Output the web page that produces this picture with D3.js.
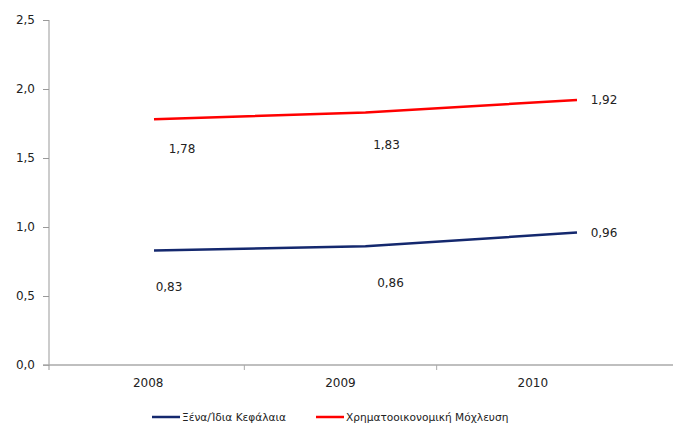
<!DOCTYPE html>
<html>
<head>
<meta charset="utf-8">
<script src="https://cdn.jsdelivr.net/npm/d3@7"></script>
<style>
  body { margin: 0; background: #fff; }
  text { font-family: "DejaVu Sans", Verdana, sans-serif; fill: #222; }
</style>
</head>
<body>
<svg width="673" height="424"></svg>
<script>
// δεδομένα
const years = ["2008", "2009", "2010"];
const seriesNames = ["Ξένα/Ίδια Κεφάλαια", "Χρηματοοικονομική Μόχλευση"];
const debtEquity = [0.83, 0.86, 0.96];
const leverage = [1.78, 1.83, 1.92];
const yTicks = [0, 0.5, 1.0, 1.5, 2.0, 2.5];

const colors = ["#14286e", "#ff0000"];
// θέση ετικετών τιμών (όπως στο Excel)
const labelOffsets = [
  [[15, 36], [25, 36], [27, 0]],
  [[28, 29], [21, 32], [27, 0]]
];

const svg = d3.select("svg");
const fmt = v => d3.format(".1f")(v).replace(".", ",");
const fmt2 = v => d3.format(".2f")(v).replace(".", ",");

const y = d3.scaleLinear().domain([0, 2.5]).range([365, 20]);
// κατηγορίες άξονα
const xBand = d3.scaleBand().domain(years).range([52, 629]);
// σημεία των γραμμών
const xPoint = d3.scalePoint().domain(years).range([154, 577]);

// άξονας y
const yAxis = svg.append("g")
  .attr("transform", "translate(49,0)")
  .call(d3.axisLeft(y).tickValues(yTicks).tickFormat(fmt).tickSize(6).tickPadding(8));
yAxis.select(".domain").attr("stroke", "#999").attr("d", "M0,20V365");
yAxis.selectAll(".tick line").attr("stroke", "#999");
yAxis.selectAll("text").attr("font-size", 12).attr("fill", "#222");

// άξονας x
svg.append("line")
  .attr("x1", 43).attr("x2", 673)
  .attr("y1", y(0)).attr("y2", y(0))
  .attr("stroke", "#aaa").attr("stroke-width", 1.5);
svg.selectAll(".xtick")
  .data(years.slice(1))
  .enter().append("line")
  .attr("x1", d => xBand(d)).attr("x2", d => xBand(d))
  .attr("y1", y(0)).attr("y2", y(0) + 5)
  .attr("stroke", "#aaa");
svg.append("line")
  .attr("x1", 49).attr("x2", 49).attr("y1", y(0)).attr("y2", y(0) + 5)
  .attr("stroke", "#999");
svg.selectAll(".xlabel")
  .data(years)
  .enter().append("text")
  .attr("x", d => xBand(d) + xBand.bandwidth() / 2)
  .attr("y", 387)
  .attr("text-anchor", "middle")
  .attr("font-size", 12)
  .text(d => d);

// γραμμές
const line = d3.line()
  .x((d, i) => xPoint(years[i]))
  .y(d => y(d));
const allSeries = [debtEquity, leverage];

allSeries.forEach((vals, s) => {
  svg.append("path")
    .attr("d", line(vals))
    .attr("fill", "none")
    .attr("stroke", colors[s])
    .attr("stroke-width", 2.5);

  svg.selectAll(".lbl" + s)
    .data(vals)
    .enter().append("text")
    .attr("x", (d, i) => xPoint(years[i]) + labelOffsets[s][i][0])
    .attr("y", (d, i) => y(d) + labelOffsets[s][i][1])
    .attr("dy", "0.35em")
    .attr("text-anchor", "middle")
    .attr("font-size", 12)
    .text(d => fmt2(d));
});

// υπόμνημα
const legendX = [152, 316];
seriesNames.forEach((name, s) => {
  svg.append("line")
    .attr("x1", legendX[s]).attr("x2", legendX[s] + 28)
    .attr("y1", 417).attr("y2", 417)
    .attr("stroke", colors[s]).attr("stroke-width", 2.5);
  svg.append("text")
    .attr("x", legendX[s] + 30)
    .attr("y", 417)
    .attr("dy", "0.35em")
    .attr("font-size", 10.6)
    .text(name);
});
</script>
</body>
</html>
